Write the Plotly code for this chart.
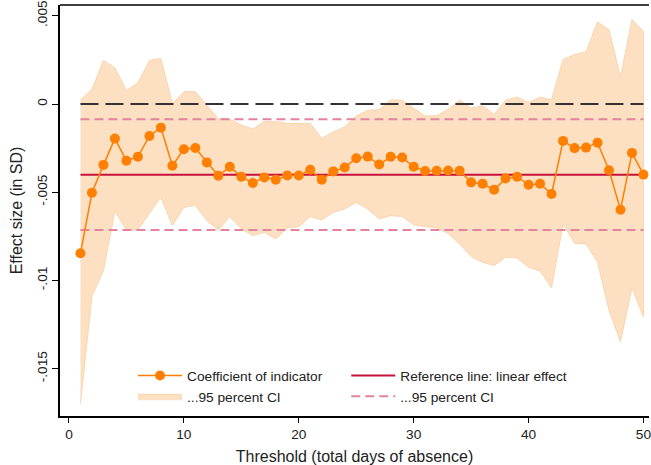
import plotly.graph_objects as go

threshold = list(range(1, 51))

coef = [-0.00846, -0.00503, -0.00345, -0.00196, -0.00322, -0.00299, -0.00181, -0.00134, -0.00350, -0.00256,
        -0.00249, -0.00331, -0.00407, -0.00356, -0.00412, -0.00448, -0.00416, -0.00429, -0.00405, -0.00405,
        -0.00373, -0.00429, -0.00382, -0.00360, -0.00307, -0.00298, -0.00343, -0.00299, -0.00303, -0.00356,
        -0.00380, -0.00378, -0.00377, -0.00378, -0.00444, -0.00452, -0.00486, -0.00422, -0.00412, -0.00458,
        -0.00452, -0.00510, -0.00209, -0.00250, -0.00247, -0.00219, -0.00375, -0.00599, -0.00277, -0.00400]

ci_upper = [0.00021, 0.00083, 0.00247, 0.00205, 0.00077, 0.00120, 0.00247, 0.00258, 0.00002, 0.00070,
            0.00070, -0.00006, -0.00083, -0.00086, -0.00119, -0.00141, -0.00100, -0.00100, -0.00110, -0.00111,
            -0.00110, -0.00194, -0.00158, -0.00130, -0.00068, -0.00036, -0.00032, 0.00024, 0.00021, -0.00024,
            -0.00068, -0.00066, -0.00030, 0.00023, -0.00024, -0.00011, -0.00058, 0.00020, 0.00040, 0.00008,
            0.00040, 0.00023, 0.00252, 0.00280, 0.00296, 0.00465, 0.00421, 0.00153, 0.00479, 0.00412]

ci_lower = [-0.01697, -0.01090, -0.00944, -0.00608, -0.00714, -0.00714, -0.00620, -0.00529, -0.00689, -0.00586,
            -0.00575, -0.00661, -0.00714, -0.00638, -0.00708, -0.00746, -0.00727, -0.00765, -0.00702, -0.00695,
            -0.00638, -0.00657, -0.00614, -0.00595, -0.00558, -0.00595, -0.00651, -0.00633, -0.00637, -0.00685,
            -0.00695, -0.00702, -0.00733, -0.00793, -0.00864, -0.00898, -0.00915, -0.00868, -0.00872, -0.00925,
            -0.00947, -0.01041, -0.00680, -0.00789, -0.00793, -0.00896, -0.01169, -0.01348, -0.01041, -0.01207]

ref_effect = -0.00401
ref_ci_upper = -0.00087
ref_ci_lower = -0.00714
zero_value = 0.0

y_tickvals = [0.005, 0, -0.005, -0.01, -0.015]
y_ticktext = [".005", "0", "-.005", "-.01", "-.015"]
x_tickvals = [0, 10, 20, 30, 40, 50]

FONT = "Liberation Sans, Arial, sans-serif"
FS = 13.7
n = len(threshold)

fig = go.Figure()

# CI band
fig.add_trace(go.Scatter(
    x=threshold + threshold[::-1],
    y=ci_upper + ci_lower[::-1],
    fill="toself", fillcolor="#FDDFC1",
    line=dict(color="#FBD6AE", width=1),
    mode="lines", name="...95 percent CI", legend="legend", legendrank=2,
    hoverinfo="skip"))

# zero line
fig.add_trace(go.Scatter(
    x=threshold, y=[zero_value] * n, mode="lines",
    line=dict(color="#333333", width=2, dash="18px,7px"),
    showlegend=False))

# reference CI dashed lines
fig.add_trace(go.Scatter(
    x=threshold, y=[ref_ci_upper] * n, mode="lines",
    line=dict(color="#E3839D", width=2, dash="9px,5px"),
    name="...95 percent CI", legend="legend2", legendrank=2))
fig.add_trace(go.Scatter(
    x=threshold, y=[ref_ci_lower] * n, mode="lines",
    line=dict(color="#E3839D", width=2, dash="9px,5px"),
    showlegend=False))

# reference line
fig.add_trace(go.Scatter(
    x=threshold, y=[ref_effect] * n, mode="lines",
    line=dict(color="#C8103C", width=2),
    name="Reference line: linear effect", legend="legend2", legendrank=1))

# coefficients
fig.add_trace(go.Scatter(
    x=threshold, y=coef, mode="lines+markers",
    line=dict(color="#FF7F00", width=1.5),
    marker=dict(color="#FF7F00", size=10),
    name="Coefficient of indicator", legend="legend", legendrank=1))

legend_common = dict(yanchor="top", xanchor="left", bgcolor="rgba(0,0,0,0)",
                     font=dict(size=FS), tracegroupgap=0, itemwidth=44,
                     orientation="v", traceorder="normal")

fig.update_layout(
    width=651, height=465,
    margin=dict(l=60, r=0, t=5, b=49),
    paper_bgcolor="white", plot_bgcolor="white",
    font=dict(family=FONT, size=FS, color="#222222"),
    legend=dict(x=0.124, y=0.136, **legend_common),
    legend2=dict(x=0.486, y=0.136, **legend_common),
    showlegend=True,
    shapes=[dict(type="line", xref="paper", yref="paper", x0=0, x1=1, y0=1, y1=1,
                 line=dict(color="black", width=1.5), layer="above")],
)

fig.update_xaxes(
    range=[-0.78, 50.48], tickvals=x_tickvals,
    showgrid=False, zeroline=False,
    showline=True, linecolor="black", linewidth=1.5,
    ticks="outside", ticklen=5, tickcolor="black",
    ticklabeloverflow="allow",
    title=dict(text="Threshold (total days of absence)", standoff=12))

fig.update_yaxes(
    range=[-0.01768, 0.00561], tickvals=y_tickvals, ticktext=y_ticktext,
    tickangle=-90,
    showgrid=False, zeroline=False,
    showline=True, linecolor="black", linewidth=1.5,
    ticks="outside", ticklen=6, tickcolor="black",
    ticklabeloverflow="allow",
    title=dict(text="Effect size (in SD)", standoff=8))

fig.write_html("out.html", config={"displayModeBar": False},
               post_script="document.body.style.margin='0';document.body.style.overflow='hidden';")
